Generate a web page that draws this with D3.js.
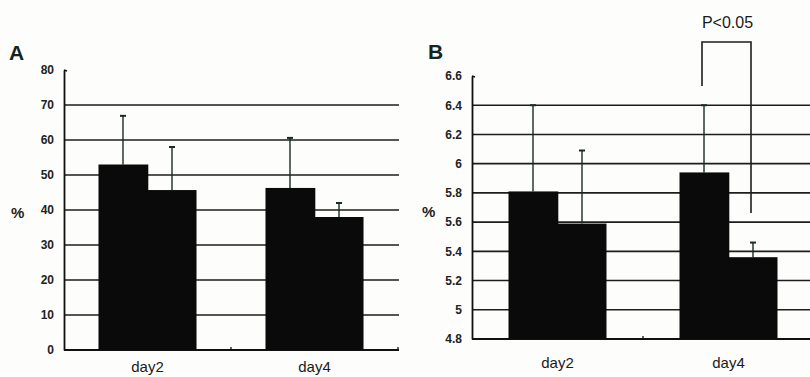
<!DOCTYPE html>
<html><head><meta charset="utf-8">
<script src="https://cdn.jsdelivr.net/npm/d3@7"></script>
<style>
html,body{margin:0;padding:0;background:#fdfdfb;}
svg{display:block;font-family:"Liberation Sans",Arial,sans-serif;}
</style></head>
<body><svg id="c" width="810" height="377"></svg>
<script>
const categories = ["day2", "day4"];
// Panel A (%)
const aTicks = [0, 10, 20, 30, 40, 50, 60, 70, 80];
const aMean1 = [53.0, 46.3];
const aSD1   = [13.9, 14.3];
const aMean2 = [45.7, 38.0];
const aSD2   = [12.3, 4.0];
// Panel B (%)
const bTicks = [4.8, 5.0, 5.2, 5.4, 5.6, 5.8, 6.0, 6.2, 6.4, 6.6];
const bTickLabels = ["4.8", "5", "5.2", "5.4", "5.6", "5.8", "6", "6.2", "6.4", "6.6"];
const bMean1 = [5.81, 5.94];
const bSD1   = [0.59, 0.46];
const bMean2 = [5.59, 5.36];
const bSD2   = [0.50, 0.10];
const sigText = "P<0.05";

const svg = d3.select("#c");
const ink = "#111";

function panel(cfg) {
  const g = svg.append("g");
  const y = d3.scaleLinear().domain(cfg.domain).range([cfg.y0, cfg.y1]);
  const x = d3.scaleBand().domain(categories).range([cfg.x0, cfg.x1])
    .paddingInner(cfg.pad).paddingOuter(cfg.pad / 2);
  const sub = d3.scaleBand().domain([0, 1]).range([0, x.bandwidth()]);

  // gridlines
  g.selectAll(".grid").data(cfg.ticks.slice(1, -1)).enter().append("line")
    .attr("x1", cfg.x0).attr("x2", cfg.gridEnd)
    .attr("y1", d => y(d)).attr("y2", d => y(d))
    .attr("stroke", "#1d1d1d").attr("stroke-width", 1.6);

  // y axis
  const ax = d3.axisLeft(y).tickValues(cfg.ticks).tickSize(0).tickPadding(cfg.tickPad)
    .tickFormat((d, i) => cfg.labels[i]);
  const ag = g.append("g").attr("transform", `translate(${cfg.x0},0)`).call(ax);
  ag.select(".domain").attr("stroke", ink).attr("stroke-width", 1.8);
  ag.selectAll("text").attr("font-size", cfg.tickFont).attr("font-weight", "bold").attr("fill", "#222");
  g.append("line").attr("x1", cfg.x0).attr("x2", cfg.x0 + 3)
    .attr("y1", y(cfg.domain[1])).attr("y2", y(cfg.domain[1]) + 1)
    .attr("stroke", ink).attr("stroke-width", 1.5);

  // x axis
  g.append("line").attr("x1", cfg.x0).attr("x2", cfg.gridEnd)
    .attr("y1", y(cfg.domain[0])).attr("y2", y(cfg.domain[0]))
    .attr("stroke", ink).attr("stroke-width", 1.8);
  const bounds = [cfg.x0 + x.step(), cfg.x0 + 2 * x.step()].filter(v => v < cfg.gridEnd);
  g.selectAll(".xt").data(bounds).enter().append("line")
    .attr("x1", d => d).attr("x2", d => d)
    .attr("y1", y(cfg.domain[0]) - 3).attr("y2", y(cfg.domain[0]))
    .attr("stroke", ink).attr("stroke-width", 1.3);

  const series = [[cfg.m1, cfg.s1], [cfg.m2, cfg.s2]];
  series.forEach(([m, s], si) => {
    categories.forEach((c, i) => {
      const bx = x(c) + sub(si);
      const cx = bx + sub.bandwidth() / 2;
      g.append("line").attr("x1", cx).attr("x2", cx)
        .attr("y1", y(m[i])).attr("y2", y(m[i] + s[i]))
        .attr("stroke", "#1a2a22").attr("stroke-width", 1.4);
      g.append("line").attr("x1", cx - 3).attr("x2", cx + 3)
        .attr("y1", y(m[i] + s[i])).attr("y2", y(m[i] + s[i]))
        .attr("stroke", "#1a2a22").attr("stroke-width", 2);
    });
  });
  series.forEach(([m, s], si) => {
    g.selectAll(".bar" + si).data(categories).enter().append("rect")
      .attr("x", d => x(d) + sub(si) - (si ? 0.8 : 0)).attr("width", sub.bandwidth() + 0.8)
      .attr("y", (d, i) => y(m[i]))
      .attr("height", (d, i) => y(cfg.domain[0]) - y(m[i]))
      .attr("fill", "#0a0a0a");
  });

  g.selectAll(".cat").data(categories).enter().append("text")
    .attr("x", d => x(d) + x.bandwidth() / 2).attr("y", cfg.catY)
    .attr("text-anchor", "middle").attr("font-size", 15).attr("fill", "#1a1a1a")
    .text(d => d);

  g.append("text").attr("x", cfg.letterX).attr("y", cfg.letterY)
    .attr("font-size", 21).attr("font-weight", "bold").attr("fill", "#12261c").text(cfg.letter);
  g.append("text").attr("x", cfg.pctX).attr("y", cfg.pctY)
    .attr("font-size", 15).attr("font-weight", "bold").attr("fill", "#222").text("%");
  return {x, y, sub};
}

panel({
  domain: [0, 80], ticks: aTicks, labels: aTicks.map(String),
  y0: 350, y1: 70, x0: 64, x1: 398, gridEnd: 399, pad: 0.413,
  m1: aMean1, s1: aSD1, m2: aMean2, s2: aSD2,
  tickPad: 10, tickFont: 12, catY: 372,
  letter: "A", letterX: 9, letterY: 60, pctX: 11, pctY: 218
});

const pB = panel({
  domain: [4.8, 6.6], ticks: bTicks, labels: bTickLabels,
  y0: 339, y1: 76, x0: 472, x1: 814, gridEnd: 810, pad: 0.427,
  m1: bMean1, s1: bSD1, m2: bMean2, s2: bSD2,
  tickPad: 10, tickFont: 12, catY: 368,
  letter: "B", letterX: 428, letterY: 59, pctX: 422, pctY: 217
});

// significance bracket on day4
const xl = pB.x("day4") + pB.sub(0) + pB.sub.bandwidth() / 2 - 2;
const xr = pB.x("day4") + pB.sub(1) + pB.sub.bandwidth() / 2 - 2;
const bracket = d3.path();
bracket.moveTo(xl, 86); bracket.lineTo(xl, 42); bracket.lineTo(xr, 42); bracket.lineTo(xr, 213);
svg.append("path").attr("d", bracket.toString()).attr("fill", "none")
  .attr("stroke", "#1d1d1d").attr("stroke-width", 1.6);
svg.append("text").attr("x", (xl + xr) / 2 + 1).attr("y", 28).attr("text-anchor", "middle")
  .attr("font-size", 16).attr("fill", "#1a1a1a").text(sigText);
</script></body></html>
